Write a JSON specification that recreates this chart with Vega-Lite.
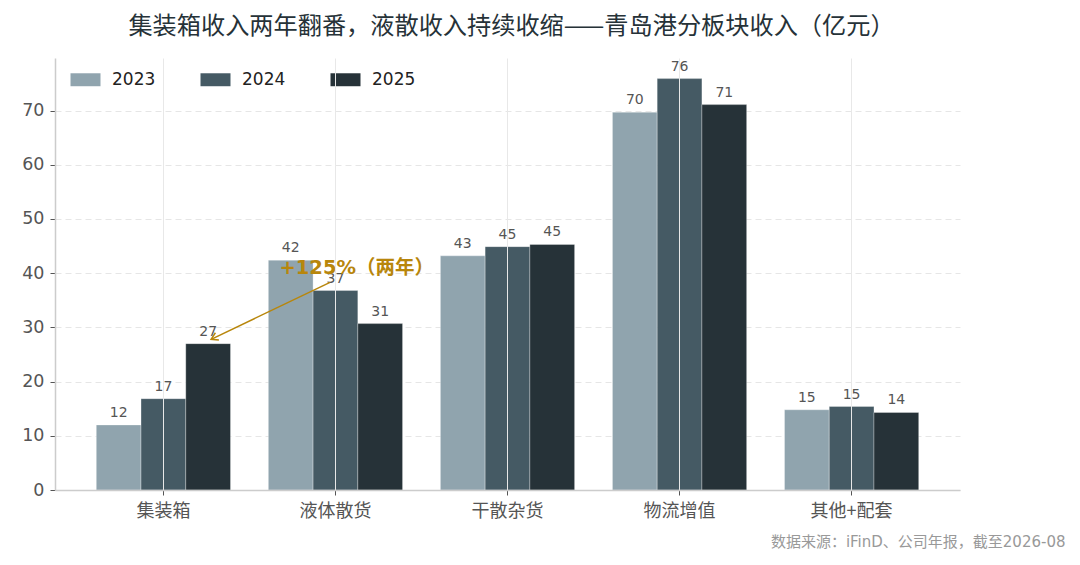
{
  "$schema": "https://vega.github.io/schema/vega-lite/v6.json",
  "width": 905,
  "height": 432,
  "autosize": "none",
  "padding": {"left": 55, "top": 58, "right": 120, "bottom": 75},
  "background": "white",
  "config": {
    "font": "DejaVu Sans, Noto Sans CJK SC",
    "view": {"stroke": null}
  },
  "title": {
    "text": "集装箱收入两年翻番，液散收入持续收缩——青岛港分板块收入（亿元）",
    "font": "Noto Sans CJK SC",
    "fontSize": 24.2,
    "fontWeight": "normal",
    "color": "#263238",
    "anchor": "middle",
    "offset": 19,
    "dx": 4
  },
  "datasets": {
    "revenue": [
      {"segment": "集装箱", "year": "2023", "value": 12.0},
      {"segment": "集装箱", "year": "2024", "value": 16.85},
      {"segment": "集装箱", "year": "2025", "value": 27.0},
      {"segment": "液体散货", "year": "2023", "value": 42.4},
      {"segment": "液体散货", "year": "2024", "value": 36.8},
      {"segment": "液体散货", "year": "2025", "value": 30.7},
      {"segment": "干散杂货", "year": "2023", "value": 43.2},
      {"segment": "干散杂货", "year": "2024", "value": 44.9},
      {"segment": "干散杂货", "year": "2025", "value": 45.3},
      {"segment": "物流增值", "year": "2023", "value": 69.7},
      {"segment": "物流增值", "year": "2024", "value": 75.9},
      {"segment": "物流增值", "year": "2025", "value": 71.1},
      {"segment": "其他+配套", "year": "2023", "value": 14.8},
      {"segment": "其他+配套", "year": "2024", "value": 15.4},
      {"segment": "其他+配套", "year": "2025", "value": 14.3}
    ],
    "arrow": [
      {"x": 0.97, "y": 38.3, "x2": 0.28, "y2": 27.8}
    ],
    "note": [
      {"x": 1.125, "y": 41.0, "label": "+125%（两年）"}
    ]
  },
  "resolve": {"scale": {"x": "independent"}},
  "layer": [
    {
      "data": {"name": "revenue"},
      "layer": [
        {
          "mark": {"type": "bar", "opacity": 1, "stroke": "#ffffff", "strokeWidth": 0.6, "strokeOpacity": 0.5},
          "encoding": {
            "x": {
              "field": "segment",
              "type": "nominal",
              "sort": null,
              "scale": {"paddingInner": 0.22, "paddingOuter": 0.24},
              "axis": {
                "title": "数据来源：iFinD、公司年报，截至2026-08",
                "titleFont": "DejaVu Sans, Noto Sans CJK SC",
                "titleFontSize": 15,
                "titleFontWeight": "normal",
                "titleColor": "#999999",
                "titleAnchor": "end",
                "titleAlign": "right",
                "titleBaseline": "middle",
                "titleX": 1010,
                "titleY": 51,
                "labelAngle": 0,
                "labelFont": "Noto Sans CJK SC",
                "labelFontSize": 18,
                "labelColor": "#555555",
                "labelPadding": 7,
                "tickColor": "#555555",
                "tickSize": 5,
                "domainColor": "#cccccc",
                "domainWidth": 1.5,
                "grid": true,
                "gridColor": "#e8e8e8",
                "gridWidth": 1,
                "bandPosition": 0.5,
                "zindex": 1
              }
            },
            "xOffset": {"field": "year", "type": "nominal"},
            "y": {
              "field": "value",
              "type": "quantitative",
              "scale": {"domain": [0, 79.7], "nice": false},
              "axis": {
                "title": null,
                "values": [0, 10, 20, 30, 40, 50, 60, 70],
                "labelFontSize": 17.5,
                "labelColor": "#555555",
                "labelPadding": 6,
                "tickColor": "#555555",
                "tickSize": 5,
                "domainColor": "#cccccc",
                "domainWidth": 1.5,
                "gridColor": "#e6e6e6",
                "gridDash": [6, 4],
                "gridWidth": 1
              }
            },
            "color": {
              "field": "year",
              "type": "nominal",
              "scale": {"domain": ["2023", "2024", "2025"], "range": ["#90a4ae", "#455a64", "#263238"]},
              "legend": {
                "title": null,
                "orient": "none",
                "legendX": 22,
                "legendY": 13,
                "direction": "horizontal",
                "symbolType": "M-2.5,-1.08H2.5V1.08H-2.5Z",
                "symbolSize": 144,
                "symbolStrokeWidth": 0,
                "symbolOpacity": 1,
                "labelFontSize": 17,
                "labelColor": "#222222",
                "labelOffset": 18,
                "columnPadding": 44
              }
            }
          }
        },
        {
          "mark": {"type": "text", "baseline": "bottom", "dy": -5, "fontSize": 14, "color": "#555555"},
          "encoding": {
            "x": {"field": "segment", "type": "nominal", "sort": null},
            "xOffset": {"field": "year", "type": "nominal"},
            "y": {"field": "value", "type": "quantitative"},
            "text": {"field": "value", "type": "quantitative", "format": ".0f"}
          }
        }
      ]
    },
    {
      "data": {"name": "arrow"},
      "layer": [
        {
          "mark": {"type": "rule", "color": "#b8860b", "strokeWidth": 1.5},
          "encoding": {
            "x": {"field": "x", "type": "quantitative", "scale": {"domain": [-0.626, 4.626], "nice": false, "zero": false}, "axis": null},
            "y": {"field": "y", "type": "quantitative"},
            "x2": {"field": "x2"},
            "y2": {"field": "y2"}
          }
        },
        {
          "mark": {"type": "point", "shape": "M-1,-0.6L0,0L-1,0.6", "filled": false, "stroke": "#b8860b", "strokeWidth": 1.5, "size": 180, "angle": 154, "opacity": 1},
          "encoding": {
            "x": {"field": "x2", "type": "quantitative", "scale": {"domain": [-0.626, 4.626], "nice": false, "zero": false}, "axis": null},
            "y": {"field": "y2", "type": "quantitative"}
          }
        }
      ]
    },
    {
      "data": {"name": "note"},
      "mark": {"type": "text", "font": "DejaVu Sans, Noto Sans CJK SC", "fontSize": 19.5, "fontWeight": "bold", "color": "#b8860b", "align": "center", "baseline": "middle"},
      "encoding": {
        "x": {"field": "x", "type": "quantitative", "scale": {"domain": [-0.626, 4.626], "nice": false, "zero": false}, "axis": null},
        "y": {"field": "y", "type": "quantitative"},
        "text": {"field": "label"}
      }
    }
  ]
}
